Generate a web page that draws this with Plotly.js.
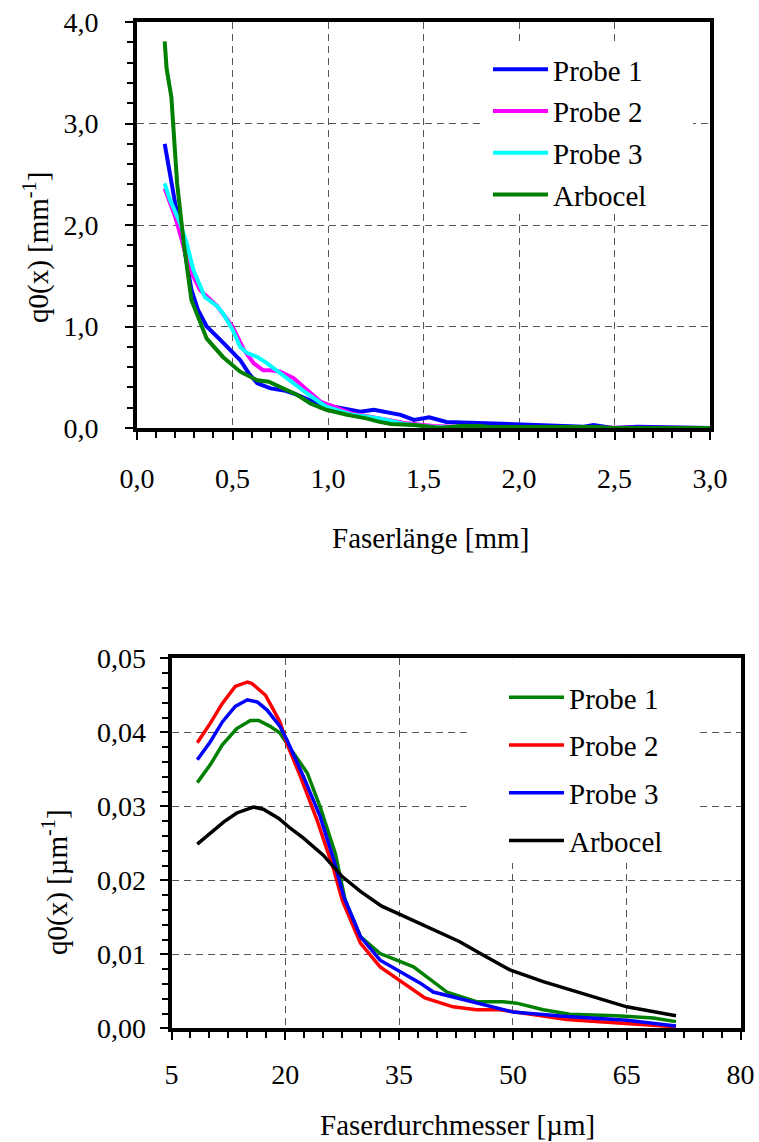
<!DOCTYPE html>
<html>
<head>
<meta charset="utf-8">
<script src="https://cdn.plot.ly/plotly-3.0.1.min.js"></script>
<style>html,body{margin:0;padding:0;background:#fff;} .modebar-container,.modebar{display:none !important;}</style>
</head>
<body>
<div id="chart"></div>
<script>
// ---------- Top chart: Faserlänge ----------
const seriesNamesTop = ["Probe 1", "Probe 2", "Probe 3", "Arbocel"];
const colorsTop = ["#0000FF", "#FF00FF", "#00FFFF", "#008000"];

const lenProbe1X = [0.145,0.17,0.2,0.225,0.25,0.285,0.32,0.365,0.435,0.49,0.54,0.585,0.63,0.70,0.77,0.82,0.89,0.96,1.03,1.10,1.17,1.24,1.27,1.38,1.45,1.53,1.62,1.78,1.99,2.18,2.34,2.39,2.49,2.62,2.90,3.0];
const lenProbe1Y = [2.80,2.54,2.21,2.02,1.72,1.36,1.16,1.00,0.87,0.77,0.67,0.54,0.44,0.39,0.37,0.34,0.28,0.23,0.21,0.18,0.16,0.18,0.17,0.13,0.08,0.105,0.06,0.05,0.03,0.02,0.013,0.03,0.0,0.013,0.007,0.0];

const lenProbe2X = [0.145,0.2,0.235,0.27,0.33,0.42,0.50,0.56,0.61,0.66,0.70,0.75,0.82,0.89,0.96,1.03,1.13,1.27,1.4,1.55,1.7,2.0,2.5,3.0];
const lenProbe2Y = [2.36,2.08,1.85,1.59,1.36,1.20,1.00,0.77,0.64,0.57,0.57,0.555,0.49,0.37,0.26,0.21,0.14,0.095,0.05,0.02,0.01,0.005,0.0,0.0];

const lenProbe3X = [0.145,0.17,0.225,0.26,0.295,0.355,0.42,0.45,0.50,0.54,0.575,0.63,0.68,0.75,0.82,0.89,0.99,1.13,1.27,1.4,1.55,1.7,2.0,2.5,3.0];
const lenProbe3Y = [2.41,2.26,2.02,1.82,1.56,1.29,1.20,1.13,0.97,0.80,0.74,0.70,0.64,0.54,0.44,0.34,0.21,0.13,0.095,0.04,0.01,0.0,0.0,0.0,0.0];

const lenArbocelX = [0.145,0.155,0.18,0.21,0.245,0.285,0.365,0.45,0.54,0.63,0.69,0.77,0.84,0.91,0.99,1.10,1.20,1.27,1.33,1.45,1.59,1.69,1.80,1.85,2.4,2.5,3.0];
const lenArbocelY = [3.81,3.54,3.26,2.41,1.82,1.26,0.88,0.70,0.555,0.47,0.456,0.39,0.325,0.24,0.18,0.13,0.095,0.06,0.04,0.03,0.0,0.02,0.02,0.01,0.01,0.0,0.0];

// ---------- Bottom chart: Faserdurchmesser ----------
const seriesNamesBottom = ["Probe 1", "Probe 2", "Probe 3", "Arbocel"];
const colorsBottom = ["#008000", "#FF0000", "#0000FF", "#000000"];

const diaProbe1X = [8.4,10.1,11.7,13.6,15.4,16.5,18.0,19.3,20.2,22.9,24.6,26.6,27.9,29.9,32.5,35.1,36.9,41.3,45.2,48.7,50.5,54.0,57.5,63.6,68.5,71.5];
const diaProbe1Y = [0.0332,0.0356,0.0383,0.0405,0.0416,0.0416,0.0408,0.0399,0.0385,0.0345,0.0299,0.0236,0.0173,0.0124,0.0101,0.0091,0.0083,0.0049,0.0036,0.0036,0.0034,0.0025,0.0019,0.0017,0.0014,0.0009];

const diaProbe2X = [8.4,10.1,11.7,13.4,15.0,15.6,17.4,19.3,20.2,22.0,24.2,26.4,27.5,29.9,32.5,35.0,38.4,42.1,45.2,48.3,52.7,57.1,61.4,65.8,71.5];
const diaProbe2Y = [0.0386,0.0412,0.0439,0.0462,0.0468,0.0466,0.0450,0.0414,0.0385,0.0340,0.0281,0.0214,0.0173,0.0115,0.0083,0.0065,0.0041,0.0029,0.0025,0.0025,0.0019,0.0012,0.0009,0.0006,0.0002];

const diaProbe3X = [8.4,10.1,11.7,13.4,15.0,16.3,17.6,19.3,20.2,22.4,24.6,26.4,27.7,29.9,32.5,35.0,37.8,39.5,43.9,50.0,57.1,65.0,71.5];
const diaProbe3Y = [0.0363,0.0387,0.0414,0.0435,0.0444,0.0441,0.0430,0.0408,0.0390,0.0340,0.0286,0.0227,0.0178,0.0124,0.0092,0.0077,0.0061,0.0049,0.0038,0.0022,0.0016,0.0011,0.0003];

const diaArbocelX = [8.4,10.1,11.9,13.6,15.8,17.1,19.1,20.7,22.4,25.0,27.5,29.9,32.7,35.1,37.8,40.0,43.0,45.7,49.6,54.0,59.7,65.0,71.5];
const diaArbocelY = [0.0249,0.0263,0.0279,0.0291,0.0299,0.0296,0.0284,0.0270,0.0257,0.0234,0.0205,0.0185,0.0165,0.0154,0.0141,0.0131,0.0117,0.0101,0.0079,0.0063,0.0045,0.0029,0.0017];

const topXs = [lenProbe1X, lenProbe2X, lenProbe3X, lenArbocelX];
const topYs = [lenProbe1Y, lenProbe2Y, lenProbe3Y, lenArbocelY];
const botXs = [diaProbe1X, diaProbe2X, diaProbe3X, diaArbocelX];
const botYs = [diaProbe1Y, diaProbe2Y, diaProbe3Y, diaArbocelY];

const SERIF = "Liberation Serif";
const tickFont = () => ({family: SERIF, size: 28, color: "#000000"});
const bigFont = () => ({family: SERIF, size: 29, color: "#000000"});

const traces = [];
seriesNamesTop.forEach((n, i) => {
  traces.push({
    type: "scatter", mode: "lines", name: n,
    x: topXs[i], y: topYs[i], xaxis: "x", yaxis: "y",
    line: {color: colorsTop[i], width: 4}, legend: "legend",
    legendgroup: "t" + i
  });
});
seriesNamesBottom.forEach((n, i) => {
  traces.push({
    type: "scatter", mode: "lines", name: n,
    x: botXs[i], y: botYs[i], xaxis: "x2", yaxis: "y2",
    line: {color: colorsBottom[i], width: 3.5}, legend: "legend2",
    legendgroup: "b" + i
  });
});

const W = 759, H = 1142;
const px = v => v / W;
const py = v => 1 - v / H;

function axisBase() {
  return {
    showline: true, linecolor: "#000", linewidth: 4, mirror: true,
    ticks: "outside", ticklen: 8, tickwidth: 1.5, tickcolor: "#000",
    showgrid: true, gridcolor: "#555", gridwidth: 1.3, griddash: "7px,5px",
    zeroline: false, tickfont: tickFont(), fixedrange: true
  };
}

const layout = {
  width: W, height: H,
  margin: {l: 0, r: 0, t: 0, b: 0},
  paper_bgcolor: "#fff", plot_bgcolor: "#fff",
  separators: ",.",
  font: tickFont(),
  xaxis: Object.assign(axisBase(), {
    domain: [px(137), px(710)], anchor: "y",
    range: [0, 3], tick0: 0, dtick: 0.5, tickformat: ".1f",
    ticklabelstandoff: 14,
    minor: {dtick: 0.1, ticks: "outside", ticklen: 6, tickwidth: 1.5, tickcolor: "#000", showgrid: false}
  }),
  yaxis: Object.assign(axisBase(), {
    domain: [py(428), py(22)], anchor: "x",
    range: [0, 4], tick0: 0, dtick: 1, tickformat: ".1f",
    ticklabelstandoff: 21,
    minor: {dtick: 0.2, ticks: "outside", ticklen: 6, tickwidth: 1.5, tickcolor: "#000", showgrid: false}
  }),
  xaxis2: Object.assign(axisBase(), {
    domain: [px(171.5), px(740.5)], anchor: "y2",
    range: [5, 80], tick0: 5, dtick: 15, tickformat: "d",
    ticklabelstandoff: 10,
    minor: {dtick: 2.5, ticks: "outside", ticklen: 6, tickwidth: 1.5, tickcolor: "#000", showgrid: false}
  }),
  yaxis2: Object.assign(axisBase(), {
    domain: [py(1028.3), py(658.3)], anchor: "x2",
    range: [0, 0.05], tick0: 0, dtick: 0.01, tickformat: ".2f",
    ticklabelstandoff: 8,
    minor: {dtick: 0.002, ticks: "outside", ticklen: 6, tickwidth: 1.5, tickcolor: "#000", showgrid: false}
  }),
  legend: {
    x: px(488), y: py(44), xanchor: "left", yanchor: "top",
    bgcolor: "rgba(0,0,0,0)", borderwidth: 0, itemwidth: 55,
    font: bigFont(),
    tracegroupgap: 1, traceorder: "grouped"
  },
  legend2: {
    x: px(504), y: py(672), xanchor: "left", yanchor: "top",
    bgcolor: "rgba(0,0,0,0)", borderwidth: 0, itemwidth: 55,
    font: bigFont(),
    tracegroupgap: 7, traceorder: "grouped"
  },
  shapes: [
    {type: "rect", xref: "x", yref: "y", layer: "between",
     x0: 1.796, x1: 2.911, y0: 2.118, y1: 3.80,
     fillcolor: "#fff", line: {width: 0}},
    {type: "rect", xref: "x2", yref: "y2", layer: "between",
     x0: 43.9, x1: 74.2, y0: 0.02234, y1: 0.0501,
     fillcolor: "#fff", line: {width: 0}}
  ],
  annotations: [
    {text: "Faserlänge [mm]", xref: "paper", yref: "paper", x: px(430), y: py(538),
     xanchor: "center", yanchor: "middle", showarrow: false, font: bigFont()},
    {text: "Faserdurchmesser [µm]", xref: "paper", yref: "paper", x: px(457), y: py(1125),
     xanchor: "center", yanchor: "middle", showarrow: false, font: bigFont()},
    {text: "q0(x) [mm<sup>-1</sup>]", xref: "paper", yref: "paper", x: px(37), y: py(248),
     xanchor: "center", yanchor: "middle", textangle: -90, showarrow: false, font: bigFont()},
    {text: "q0(x) [µm<sup>-1</sup>]", xref: "paper", yref: "paper", x: px(55), y: py(882),
     xanchor: "center", yanchor: "middle", textangle: -90, showarrow: false, font: bigFont()}
  ],
  showlegend: true
};

Plotly.newPlot("chart", traces, layout, {displayModeBar: false});
</script>
</body>
</html>
